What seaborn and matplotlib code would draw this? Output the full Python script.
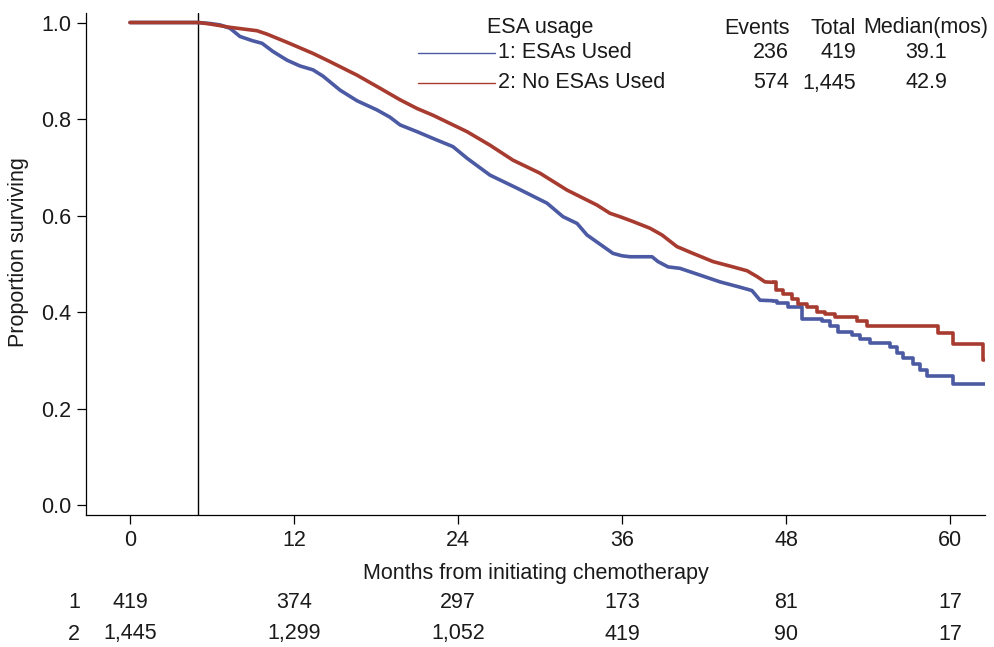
import matplotlib
matplotlib.use("Agg")
import matplotlib.pyplot as plt
from matplotlib.lines import Line2D
from matplotlib.transforms import blended_transform_factory
import numpy as np
import pandas as pd
import seaborn as sns

# ---------------- data ----------------
blue_t_smooth = [0, 5.0, 5.85, 6.59, 7.32, 8.05, 9.0, 9.66, 10.46, 11.49, 12.44, 13.39, 14.12,
                 15.37, 16.61, 18.07, 19.02, 19.76, 21.0, 22.17, 23.63, 24.66, 26.34, 28.32,
                 30.51, 31.68, 32.71, 33.44, 34.39, 35.34, 36.0, 36.59, 38.2, 38.63, 39.37,
                 40.24, 41.71, 43.17, 44.63, 45.51, 46.1, 47.05]
blue_s_smooth = [1.0, 1.0, 0.998, 0.995, 0.988, 0.971, 0.962, 0.957, 0.940, 0.922, 0.910, 0.902,
                 0.889, 0.860, 0.838, 0.819, 0.804, 0.788, 0.774, 0.760, 0.743, 0.719, 0.684,
                 0.657, 0.626, 0.598, 0.584, 0.560, 0.541, 0.522, 0.517, 0.515, 0.515, 0.505,
                 0.494, 0.491, 0.477, 0.463, 0.452, 0.445, 0.425, 0.424]
blue_t_step = [47.05, 47.34, 48.15, 49.17, 50.63, 51.22, 51.8, 52.83, 53.41, 54.15, 55.61,
               56.12, 56.56, 57.29, 57.8, 58.32, 60.22, 62.56]
blue_s_step = [0.424, 0.419, 0.412, 0.386, 0.381, 0.372, 0.360, 0.354, 0.344, 0.337, 0.328,
               0.316, 0.305, 0.292, 0.281, 0.268, 0.251, 0.251]

red_t_smooth = [0, 5.0, 5.85, 7.32, 9.29, 10.02, 11.49, 13.39, 14.63, 16.61, 18.29, 19.76,
                21.0, 22.17, 24.66, 26.34, 28.02, 30.0, 31.98, 34.17, 35.12, 35.85, 36.8,
                38.05, 38.93, 40.02, 41.19, 42.66, 44.12, 45.15, 45.88, 46.46, 47.05]
red_s_smooth = [1.0, 1.0, 0.997, 0.990, 0.983, 0.976, 0.959, 0.936, 0.919, 0.891, 0.864, 0.840,
                0.822, 0.808, 0.774, 0.746, 0.715, 0.688, 0.653, 0.622, 0.605, 0.598, 0.588,
                0.574, 0.560, 0.536, 0.522, 0.505, 0.494, 0.486, 0.474, 0.463, 0.462]
red_t_step = [47.05, 47.27, 47.78, 48.44, 48.88, 49.54, 50.27, 50.85, 51.59, 53.19, 53.93,
              59.12, 60.22, 62.45, 62.5]
red_s_step = [0.462, 0.446, 0.437, 0.428, 0.417, 0.410, 0.401, 0.396, 0.390, 0.381, 0.372,
              0.357, 0.334, 0.301, 0.301]

landmark_month = 5
x_ticks = [0, 12, 24, 36, 48, 60]
y_ticks = [0.0, 0.2, 0.4, 0.6, 0.8, 1.0]

groups = ["1: ESAs Used", "2: No ESAs Used"]
events = ["236", "574"]
totals = ["419", "1,445"]
medians = ["39.1", "42.9"]
risk_labels = ["1", "2"]
risk_1 = ["419", "374", "297", "173", "81", "17"]
risk_2 = ["1,445", "1,299", "1,052", "419", "90", "17"]

BLUE = "#4b5aa3"
RED = "#a83b2f"

# ---------------- figure ----------------
sns.set_theme(style="ticks")
plt.rcParams["font.family"] = ["Liberation Sans", "DejaVu Sans"]
FS = 15.5
W, H = 995, 647

fig = plt.figure(figsize=(W / 100, H / 100), dpi=100)
ax = fig.add_axes([86 / W, 132 / H, 899 / W, 502 / H])

LW = 2.6
sns.lineplot(x=blue_t_smooth, y=blue_s_smooth, ax=ax, color=BLUE, lw=LW, sort=False,
             estimator=None, zorder=3)
sns.lineplot(x=blue_t_step, y=blue_s_step, ax=ax, color=BLUE, lw=LW, sort=False,
             estimator=None, drawstyle="steps-post", zorder=3)
sns.lineplot(x=red_t_smooth, y=red_s_smooth, ax=ax, color=RED, lw=LW, sort=False,
             estimator=None, zorder=4)
sns.lineplot(x=red_t_step, y=red_s_step, ax=ax, color=RED, lw=LW, sort=False,
             estimator=None, drawstyle="steps-post", zorder=4)

ax.axvline(landmark_month, color="black", lw=1.0, zorder=2)

ax.set_xlim(-3.22, 62.56)
ax.set_ylim(-0.0197, 1.0197)
ax.set_xticks(x_ticks)
ax.set_xticklabels([str(v) for v in x_ticks])
ax.set_yticks(y_ticks)
ax.set_yticklabels([f"{v:.1f}" for v in y_ticks])
ax.tick_params(axis="both", direction="out", length=6.5, width=0.9, color="black",
               labelsize=FS, labelcolor="#1a1a1a")
ax.tick_params(axis="x", pad=4)
ax.tick_params(axis="y", pad=4)
sns.despine(ax=ax)
for s in ("left", "bottom"):
    ax.spines[s].set_color("black")
    ax.spines[s].set_linewidth(0.9)
ax.set_xlabel("")
ax.set_ylabel("")
ax.grid(False)

def fx(px):
    return px / W

def fy(py):
    return 1 - py / H

TXT = "#1a1a1a"
# axis labels
fig.text(fx(19), fy(252), "Proportion surviving", rotation=90, ha="center", va="center",
         fontsize=FS, color=TXT)
fig.text(fx(535.5), fy(574), "Months from initiating chemotherapy", ha="center",
         va="center", fontsize=FS, color=TXT)

# number at risk table
tr = blended_transform_factory(ax.transData, fig.transFigure)
for row_y, lab, vals in [(602, risk_labels[0], risk_1), (634, risk_labels[1], risk_2)]:
    fig.text(fx(74), fy(row_y), lab, ha="center", va="center", fontsize=FS, color=TXT)
    for xv, v in zip(x_ticks, vals):
        ax.text(xv, fy(row_y), v, transform=tr, ha="center", va="center", fontsize=FS,
                color=TXT, clip_on=False)

# legend / summary table
fig.text(fx(540), fy(28), "ESA usage", ha="center", va="center", fontsize=FS, color=TXT)
fig.text(fx(790), fy(28), "Events", ha="right", va="center", fontsize=FS, color=TXT)
fig.text(fx(856), fy(28), "Total", ha="right", va="center", fontsize=FS, color=TXT)
fig.text(fx(926), fy(28), "Median(mos)", ha="center", va="center", fontsize=FS, color=TXT)
for row_y, col, g, e, t, m in [(53, BLUE, groups[0], events[0], totals[0], medians[0]),
                               (83, RED, groups[1], events[1], totals[1], medians[1])]:
    fig.add_artist(Line2D([fx(418), fx(495)], [fy(row_y), fy(row_y)], color=col, lw=1.0,
                          transform=fig.transFigure))
    fig.text(fx(498), fy(row_y), g, ha="left", va="center", fontsize=FS, color=TXT)
    fig.text(fx(789), fy(row_y), e, ha="right", va="center", fontsize=FS, color=TXT)
    fig.text(fx(856), fy(row_y), t, ha="right", va="center", fontsize=FS, color=TXT)
    fig.text(fx(926), fy(row_y), m, ha="center", va="center", fontsize=FS, color=TXT)

fig.savefig("out.png", dpi=100, facecolor="white")
